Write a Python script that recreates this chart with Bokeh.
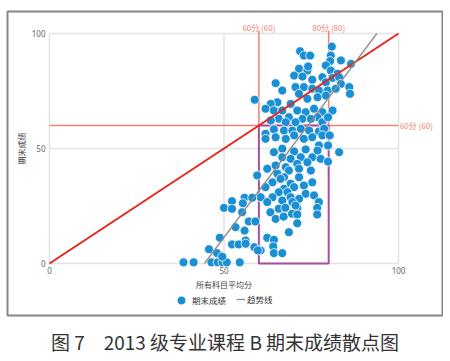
from bokeh.plotting import figure
from bokeh.models import Label, Legend, LegendItem, ColumnDataSource, Title
from bokeh.embed import file_html
from bokeh.resources import INLINE

# ---------------- data ----------------
avg_score = [
    71.8, 72.9, 74.7, 80.9, 80.6, 83.5, 80.4, 71.5, 73.9, 74.1, 79.2, 80.6, 82.5, 86.4,
    70.1, 72.5, 75.3, 78.2, 79.2, 81.1, 83.0, 83.5, 64.8, 66.7, 70.5, 72.9, 75.3, 77.2,
    79.7, 82.0, 85.9, 86.1, 58.8, 71.5, 73.9, 76.8, 79.2, 65.3, 63.4, 61.9, 64.3, 66.7,
    69.1, 71.0, 73.4, 75.8, 78.2, 81.1, 76.8, 68.6, 65.7, 72.5, 74.9, 63.4, 70.5, 78.2,
    67.7, 79.8,
    61.9, 64.3, 67.2, 69.6, 72.0, 74.4, 77.2, 78.7, 61.9, 64.8, 67.7, 70.1, 72.9, 75.3,
    78.2, 80.3, 77.2, 76.8, 79.8, 83.0, 64.3, 66.7, 70.1, 73.4, 75.3, 77.7, 79.8, 66.7,
    69.1, 72.0, 73.9, 71.0, 64.8, 67.7, 68.6, 71.5, 74.9, 62.4, 59.5, 65.3, 67.2, 71.5,
    63.9, 66.2, 69.1, 75.3, 61.9, 67.2, 70.1, 72.9, 65.7, 68.2, 73.4, 75.8, 60.5, 63.9,
    69.1, 71.5, 62.4, 66.7, 69.6, 77.2,
    65.7, 67.6, 71.0, 76.7, 70.5, 63.3, 76.7, 64.8, 67.1, 69.5, 71.0, 71.0, 68.6, 62.4,
    64.3, 64.1, 64.3, 66.7, 60.5,
    38.4, 41.3, 46.4, 48.2, 49.6, 50.8, 54.5, 45.7, 48.0, 49.5, 48.8, 50.0, 52.3, 55.9,
    58.1, 55.4, 55.2, 52.3, 57.1, 59.0, 55.9, 53.3, 56.2, 52.3, 54.2, 56.2, 58.7, 59.7,
]
final_score = [
    92.3, 90.4, 90.4, 94.3, 90.4, 88.3, 88.0, 84.7, 83.9, 85.7, 86.1, 83.9, 82.5, 86.8,
    81.7, 81.3, 79.9, 81.0, 78.8, 80.7, 81.0, 78.1, 78.4, 75.2, 76.7, 76.7, 76.0, 75.2,
    75.2, 76.0, 76.7, 73.8, 71.2, 73.8, 71.6, 72.3, 73.0, 70.1, 69.4, 67.3, 66.5, 66.5,
    69.4, 66.5, 65.8, 67.3, 65.8, 66.5, 63.6, 63.6, 62.9, 62.9, 62.9, 62.2, 61.4, 61.4,
    61.4, 63.6,
    56.4, 58.3, 57.8, 57.8, 58.6, 57.8, 57.4, 58.6, 54.2, 54.9, 54.2, 55.7, 54.2, 54.9,
    55.7, 55.7, 51.3, 49.1, 51.3, 48.4, 48.4, 49.9, 48.7, 49.6, 46.2, 45.5, 44.3, 46.2,
    45.5, 46.2, 44.0, 43.3, 42.6, 41.9, 40.4, 41.2, 40.4, 41.2, 38.3, 39.0, 37.5, 37.5,
    35.3, 36.8, 34.7, 35.3, 33.2, 32.5, 33.2, 33.9, 31.0, 31.0, 30.3, 29.6, 28.8, 28.8,
    28.8, 28.1, 26.7, 27.4, 26.7, 26.7,
    23.8, 24.2, 24.2, 24.2, 25.2, 22.3, 21.3, 19.4, 20.4, 21.6, 21.3, 17.5, 13.6, 11.2,
    10.3, 7.4, 4.5, 4.5, 5.7,
    0.5, 0.5, 0.5, 0.5, 0.5, 0.5, 0.5, 6.2, 4.5, 3.0, 11.2, 24.2, 27.1, 28.6,
    28.6, 26.2, 22.3, 23.8, 18.3, 18.3, 14.3, 15.8, 10.0, 8.3, 8.3, 8.6, 7.1, 5.7,
]
trend_x = [44.4, 93.8]
trend_y = [0, 100]
diag_x = [0, 100]
diag_y = [0, 100]
axis_min, axis_max = 0, 100
x_ticks = [0, 50, 100]
y_ticks = [0, 50, 100]
pass_score = 60
good_score = 80
box_x = [60, 80]
box_y = [0, 60]
ref_label_pass_x = "60分 (60)"
ref_label_good_x = "80分 (80)"
ref_label_pass_y = "60分 (60)"
x_title = "所有科目平均分"
y_title = "期末成绩"
series_name = "期末成绩"
trend_name = "趋势线"
caption = "图 7\u30002013 级专业课程 B 期末成绩散点图"

FONT = "Noto Sans CJK SC"
BLUE = "#1b8fd3"
SALMON = "#f2826c"
RED = "#e8241e"
PURPLE = "#a54ea5"
GRID = "#e3e3e3"

# frame == outer box of the chart; data area 0..100 sits inside it
p = figure(frame_width=435, frame_height=304,
           x_range=(-12.03, 112.61), y_range=(-22.61, 109.57),
           toolbar_location=None, output_backend="svg",
           min_border_left=7, min_border_right=1,
           min_border_top=11, min_border_bottom=0)
p.outline_line_color = "#858585"
p.outline_line_width = 2
p.background_fill_color = "white"
p.border_fill_color = "white"
p.grid.visible = False

for ax in (p.xaxis[0], p.yaxis[0]):
    ax.fixed_location = 0
    ax.bounds = (axis_min, axis_max)
    ax.axis_line_color = None
    ax.major_tick_line_color = None
    ax.minor_tick_line_color = None
    ax.major_tick_out = 0
    ax.major_tick_in = 0
    ax.major_label_text_font_size = "8px"
    ax.major_label_text_color = "#666666"
    ax.major_label_text_font = "Noto Sans"
    ax.axis_label_text_font = FONT
    ax.axis_label_text_font_size = "8px"
    ax.axis_label_text_font_style = "normal"
    ax.axis_label_text_color = "#444444"
p.xaxis.ticker = x_ticks
p.yaxis.ticker = y_ticks
p.xaxis.axis_label = x_title
p.yaxis.axis_label = y_title
p.xaxis.major_label_standoff = 4
p.yaxis.major_label_standoff = 4
p.xaxis.axis_label_standoff = 1
p.yaxis.axis_label_standoff = 2

# grid lines over the data area only
p.segment(x0=x_ticks, y0=[axis_min] * len(x_ticks), x1=x_ticks, y1=[axis_max] * len(x_ticks),
          line_color=GRID, line_width=1.5)
p.segment(x0=[axis_min] * len(y_ticks), y0=y_ticks, x1=[axis_max] * len(y_ticks), y1=y_ticks,
          line_color=GRID, line_width=1.5)

# reference lines
p.segment(x0=[pass_score, good_score], y0=[box_y[1], box_y[1]],
          x1=[pass_score, good_score], y1=[101.3, 101.3],
          line_color=SALMON, line_width=1.5)
p.segment(x0=[axis_min], y0=[pass_score], x1=[axis_max], y1=[pass_score],
          line_color=SALMON, line_width=1.5)

# purple box
p.quad(left=[box_x[0]], right=[box_x[1]], bottom=[box_y[0]], top=[box_y[1]],
       fill_color=None, line_color=PURPLE, line_width=2)

src = ColumnDataSource(dict(x=avg_score, y=final_score))
sc = p.scatter("x", "y", source=src, size=9, fill_color=BLUE,
               line_color="white", line_width=0.8)

p.line(diag_x, diag_y, line_color=RED, line_width=2)
tl = p.line(trend_x, trend_y, line_color="#8e8e8e", line_width=1.3)

lab_kw = dict(text_font=FONT, text_font_size="8px", text_color=SALMON)
p.add_layout(Label(x=pass_score, y=102.6, text=ref_label_pass_x,
                   text_align="center", text_baseline="middle", **lab_kw))
p.add_layout(Label(x=good_score, y=102.6, text=ref_label_good_x,
                   text_align="center", text_baseline="middle", **lab_kw))
p.add_layout(Label(x=100.4, y=pass_score, text=ref_label_pass_y,
                   text_align="left", text_baseline="middle", **lab_kw))

leg_kw = dict(orientation="horizontal", border_line_color=None,
              background_fill_alpha=0, label_text_font=FONT,
              label_text_font_size="8.5px", label_text_color="#333333",
              padding=0, margin=0, label_height=10, spacing=0)
leg1 = Legend(items=[LegendItem(label=series_name, renderers=[sc])],
              location=(163, 4), glyph_width=22, glyph_height=22,
              label_standoff=-5, **leg_kw)
leg2 = Legend(items=[LegendItem(label=trend_name, renderers=[tl])],
              location=(229, 10), glyph_width=9, glyph_height=10,
              label_standoff=2, **leg_kw)
p.add_layout(leg1)
p.add_layout(leg2)

cap = Title(text=caption, align="center", text_font=FONT, text_font_size="19px",
            text_font_style="normal", text_color="#333333", standoff=20)
p.add_layout(cap, "below")

open("out.html", "w").write(file_html(p, INLINE))
